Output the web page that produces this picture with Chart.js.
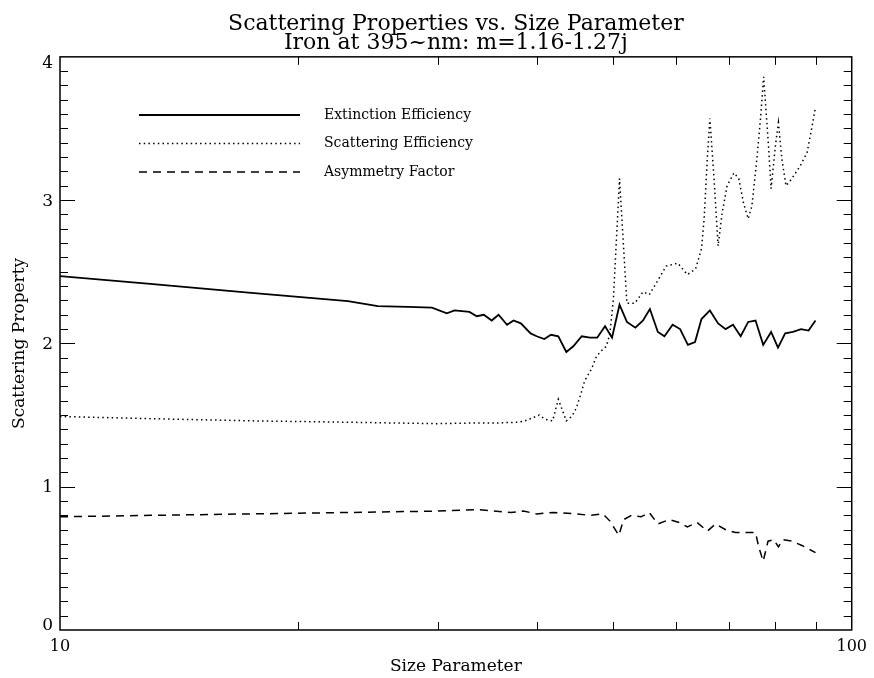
<!DOCTYPE html>
<html>
<head>
<meta charset="utf-8">
<script src="https://cdn.jsdelivr.net/npm/chart.js@4.4.1/dist/chart.umd.min.js"></script>
<style>
  body { margin: 0; background: #fff; }
  canvas { display: block; }
</style>
</head>
<body>
<canvas id="chart" width="874" height="678"></canvas>
<script>
// values (size parameter, efficiency)
let extX = [10.0, 13.0, 17.3, 23.1, 25.2, 27.5, 29.5, 30.8, 31.5, 32.9, 33.6, 34.3, 35.1, 35.8, 36.7, 37.4, 38.2, 39.3,
  40.0, 40.9, 41.7, 42.6, 43.6, 44.5, 45.6, 46.7, 47.7, 48.8, 49.8, 50.9, 52.0, 53.3, 54.5, 55.6, 56.9, 58.0, 59.4,
  60.7, 62.1, 63.4, 64.6, 66.2, 67.8, 69.3, 70.8, 72.4, 74.0, 75.6, 77.3, 79.1, 80.7, 82.4, 84.3, 86.3, 88.2, 90.0]
let extY = [2.47, 2.415, 2.355, 2.295, 2.26, 2.255, 2.25, 2.21, 2.23, 2.22, 2.19, 2.20, 2.16, 2.20, 2.13, 2.16, 2.14, 2.07,
  2.05, 2.03, 2.06, 2.05, 1.94, 1.98, 2.05, 2.04, 2.04, 2.12, 2.04, 2.27, 2.15, 2.11, 2.16, 2.24, 2.08, 2.05, 2.13,
  2.10, 1.99, 2.01, 2.17, 2.23, 2.14, 2.10, 2.13, 2.05, 2.15, 2.16, 1.99, 2.08, 1.97, 2.07, 2.08, 2.10, 2.09, 2.16]

let scaX = [10.0, 13.0, 17.3, 23.1, 30.0, 33.7, 35.7, 37.8, 38.7, 39.5, 40.3, 41.0, 41.9, 42.6, 43.6, 44.3, 44.9, 45.5,
  46.0, 46.9, 47.6, 48.3, 49.0, 49.5, 50.0, 50.9, 52.0, 53.2, 54.5, 55.5, 56.9, 58.3, 60.3, 62.0, 63.5, 64.6, 65.1,
  65.7, 66.2, 67.0, 67.8, 68.6, 69.6, 71.0, 72.0, 73.0, 74.0, 74.8, 75.9, 76.7, 77.4, 78.5, 79.1, 80.1, 80.8, 81.6,
  82.6, 84.0, 86.1, 87.8, 89.0, 90.0]
let scaY = [1.49, 1.475, 1.46, 1.45, 1.44, 1.445, 1.445, 1.45, 1.46, 1.48, 1.50, 1.47, 1.46, 1.61, 1.46, 1.49, 1.55, 1.65,
  1.74, 1.82, 1.91, 1.95, 1.98, 2.07, 2.31, 3.15, 2.28, 2.28, 2.36, 2.34, 2.44, 2.54, 2.56, 2.48, 2.52, 2.66, 2.87,
  3.29, 3.57, 3.15, 2.68, 2.91, 3.10, 3.19, 3.15, 2.98, 2.87, 2.96, 3.29, 3.57, 3.86, 3.38, 3.08, 3.38, 3.54, 3.29,
  3.10, 3.15, 3.24, 3.33, 3.50, 3.65]

let asyX = [10.0, 13.0, 17.3, 23.1, 30.0, 33.7, 37.1, 38.5, 40.0, 42.0, 44.9, 46.7, 48.5, 49.5, 50.8, 51.5, 52.7, 54.2,
  55.5, 56.9, 58.8, 60.6, 62.0, 63.8, 65.7, 67.3, 69.3, 71.3, 73.0, 75.6, 76.3, 77.3, 78.4, 79.7, 80.8, 81.8, 84.0,
  86.5, 88.6, 90.0]
let asyY = [0.79, 0.80, 0.81, 0.82, 0.83, 0.84, 0.82, 0.83, 0.81, 0.82, 0.81, 0.80, 0.81, 0.76, 0.66, 0.77, 0.80, 0.79,
  0.82, 0.74, 0.77, 0.75, 0.72, 0.75, 0.69, 0.74, 0.70, 0.68, 0.68, 0.68, 0.58, 0.48, 0.62, 0.63, 0.58, 0.63, 0.62,
  0.59, 0.56, 0.54]

let seriesNames = ['Extinction Efficiency', 'Scattering Efficiency', 'Asymmetry Factor']
let xTickValues = [10, 100]
let xMinorTicks = [20, 30, 40, 50, 60, 70, 80, 90]
let yTickLabels = ['0', '1', '2', '3', '4']

let serif = 'DejaVu Serif'
let dashes = [[], [1.5, 3.2], [8, 6]]

function pts(xs, ys) {
  return xs.map((x, i) => ({ x: x, y: ys[i] }))
}

// frame, inward ticks, y labels and the legend, IDL style
let frame = {
  id: 'frame',
  afterDraw(chart) {
    let ctx = chart.ctx
    let a = chart.chartArea
    let x = chart.scales.x
    let y = chart.scales.y
    ctx.save()
    ctx.strokeStyle = '#000'
    ctx.lineWidth = 1.5
    ctx.setLineDash([])
    ctx.strokeRect(a.left, a.top, a.right - a.left, a.bottom - a.top)

    ctx.lineWidth = 1
    ctx.beginPath()
    for (let i = 1; i < 40; i++) {
      let py = Math.round(y.getPixelForValue(i / 10)) + 0.5
      let len = i % 10 === 0 ? 15 : 8
      ctx.moveTo(a.left, py); ctx.lineTo(a.left + len, py)
      ctx.moveTo(a.right, py); ctx.lineTo(a.right - len, py)
    }
    xMinorTicks.forEach(v => {
      let px = Math.round(x.getPixelForValue(v)) + 0.5
      ctx.moveTo(px, a.bottom); ctx.lineTo(px, a.bottom - 8)
      ctx.moveTo(px, a.top); ctx.lineTo(px, a.top + 8)
    })
    ctx.stroke()

    ctx.fillStyle = '#000'
    ctx.font = '17px "' + serif + '"'
    ctx.textAlign = 'right'
    yTickLabels.forEach((t, i) => {
      let py = y.getPixelForValue(i)
      if (i === yTickLabels.length - 1) {
        ctx.textBaseline = 'top'; ctx.fillText(t, 53, py - 2)
      } else if (i === 0) {
        ctx.textBaseline = 'alphabetic'; ctx.fillText(t, 53, py)
      } else {
        ctx.textBaseline = 'middle'; ctx.fillText(t, 53, py + 1)
      }
    })

    ctx.font = '14px "' + serif + '"'
    ctx.textAlign = 'left'
    ctx.textBaseline = 'middle'
    seriesNames.forEach((name, i) => {
      let ly = 115 + i * 28.5
      ctx.lineWidth = i === 0 ? 1.8 : 1.5
      ctx.setLineDash(dashes[i])
      ctx.beginPath()
      ctx.moveTo(139, ly); ctx.lineTo(300, ly)
      ctx.stroke()
      ctx.fillText(name, 324, ly)
    })
    ctx.restore()
  }
}

let ctx = document.getElementById('chart').getContext('2d')

let chart = new Chart(ctx, {
  type: 'line',
  data: {
    datasets: [{
      label: seriesNames[0],
      data: pts(extX, extY),
      borderColor: '#000',
      borderWidth: 1.8
    }, {
      label: seriesNames[1],
      data: pts(scaX, scaY),
      borderColor: '#000',
      borderWidth: 1.5,
      borderDash: dashes[1]
    }, {
      label: seriesNames[2],
      data: pts(asyX, asyY),
      borderColor: '#000',
      borderWidth: 1.5,
      borderDash: dashes[2]
    }]
  },
  options: {
    responsive: false,
    animation: false,
    layout: { padding: { right: 17 } },
    elements: {
      point: { radius: 0 },
      line: { tension: 0, fill: false }
    },
    plugins: {
      legend: { display: false },
      tooltip: { enabled: false },
      title: {
        display: true,
        fullSize: false,
        text: ['Scattering Properties vs. Size Parameter', 'Iron at 395~nm: m=1.16-1.27j'],
        color: '#000',
        font: { family: serif, size: 22, weight: 'normal', lineHeight: 0.86 },
        padding: { top: 15, bottom: 4 }
      }
    },
    scales: {
      x: {
        type: 'logarithmic',
        min: 10,
        max: 100,
        grid: { display: false, drawTicks: false },
        border: { display: false },
        afterBuildTicks: s => { s.ticks = xTickValues.map(v => ({ value: v })) },
        afterFit: s => { s.height = 48 },
        ticks: {
          color: '#000',
          font: { family: serif, size: 16 },
          padding: 7,
          autoSkip: false,
          maxRotation: 0,
          callback: v => String(v)
        },
        title: {
          display: true,
          text: 'Size Parameter',
          color: '#000',
          font: { family: serif, size: 17 },
          padding: { top: 0, bottom: 1 }
        }
      },
      y: {
        min: 0,
        max: 4,
        grid: { display: false, drawTicks: false },
        border: { display: false },
        ticks: { display: false },
        afterFit: s => { s.width = 60 },
        title: {
          display: true,
          text: 'Scattering Property',
          color: '#000',
          font: { family: serif, size: 17 },
          padding: { top: 9, bottom: 0 }
        }
      }
    }
  },
  plugins: [frame]
})
</script>
</body>
</html>
